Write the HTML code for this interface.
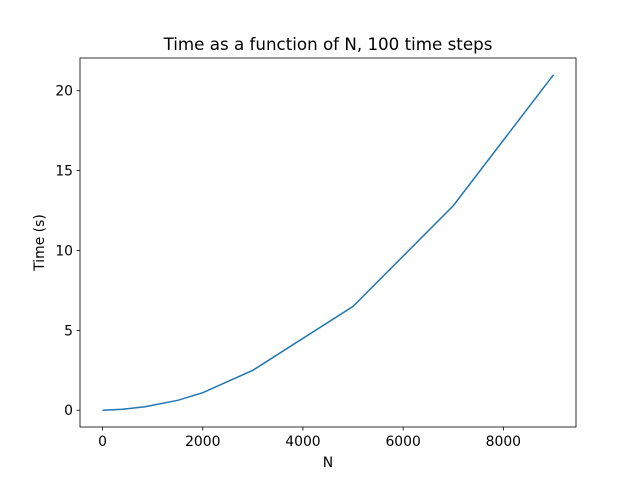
<!DOCTYPE html>
<html><head><meta charset="utf-8"><style>
body{margin:0;background:#fff;}
svg{display:block;font-family:"DejaVu Sans","Liberation Sans",sans-serif;}
</style></head><body>
<svg id="chart" width="640" height="480">
<rect width="640" height="480" fill="#fff"/>
<text x="328" y="50" text-anchor="middle" font-size="16.7">Time as a function of N, 100 time steps</text>
<g id="ticks"></g>
<path id="line" fill="none" stroke="#1f77b4" stroke-width="1.5"/>
<rect x="80" y="58" width="496" height="369" fill="none" stroke="#000" stroke-width="0.8"/>
<text x="328" y="467" text-anchor="middle" font-size="13.9">N</text>
<text transform="translate(44,242.5) rotate(-90)" text-anchor="middle" font-size="13.9">Time (s)</text>
</svg>
<script>
const nValues=[0,400,850,1500,2000,3000,5000,7000,9000];
const timeValues=[0,0.06,0.22,0.62,1.1,2.5,6.5,12.8,21];
const xTicks=[0,2000,4000,6000,8000];
const yTicks=[0,5,10,15,20];
const L=80,R=576,T=58,B=427;
const xmin=-450,xmax=9450,ymin=-1.05,ymax=22.05;
const sx=v=>L+(v-xmin)/(xmax-xmin)*(R-L);
const sy=v=>B-(v-ymin)/(ymax-ymin)*(B-T);
const NS="http://www.w3.org/2000/svg";
const g=document.getElementById('ticks');
function mk(tag,attrs,txt){const e=document.createElementNS(NS,tag);for(const k in attrs)e.setAttribute(k,attrs[k]);if(txt!==undefined)e.textContent=txt;g.appendChild(e);return e;}
xTicks.forEach(t=>{const x=sx(t);
const l=mk('line',{x1:x,x2:x,y1:B,y2:B+3.5,stroke:'#000','stroke-width':0.8});


const tx=mk('text',{x:x,y:B+19,'text-anchor':'middle','font-size':13.9},String(t));

});
yTicks.forEach(t=>{const y=sy(t);
const l=mk('line',{x1:L-3.5,x2:L,y1:y,y2:y,stroke:'#000','stroke-width':0.8});


const tx=mk('text',{x:L-7,y:y+5,'text-anchor':'end','font-size':13.9},String(t));

});
document.getElementById('line').setAttribute('d',nValues.map((n,i)=>(i?'L':'M')+sx(n).toFixed(2)+','+sy(timeValues[i]).toFixed(2)).join(' '));
</script>
</body></html>
